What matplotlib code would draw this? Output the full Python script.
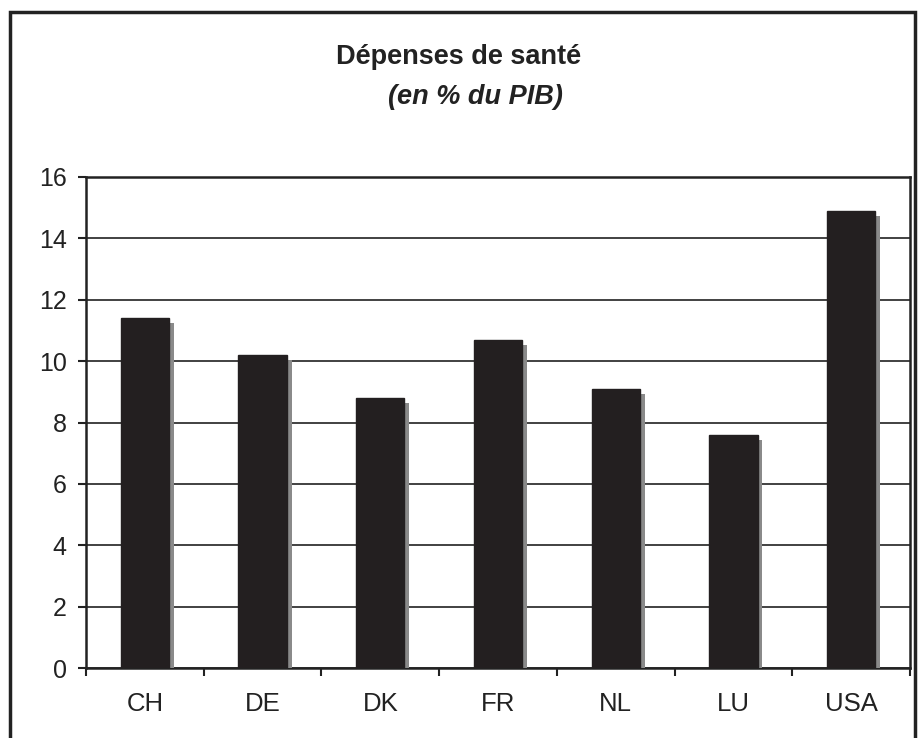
import matplotlib
matplotlib.use("Agg")
import matplotlib.pyplot as plt
import matplotlib.patheffects as pe
from matplotlib.patches import Rectangle

categories = ["CH", "DE", "DK", "FR", "NL", "LU", "USA"]
values = [11.4, 10.2, 8.8, 10.7, 9.1, 7.6, 14.9]
yticks = [0, 2, 4, 6, 8, 10, 12, 14, 16]

plt.rcParams['font.family'] = ['Liberation Sans', 'DejaVu Sans']

W, H = 918, 738
fig = plt.figure(figsize=(W / 100, H / 100), dpi=100)
ax = fig.add_axes([86 / W, 1 - 668 / H, (910 - 86) / W, (668 - 177) / H])

x = list(range(len(categories)))
bars = ax.bar(x, values, width=0.41, color="#231f20", edgecolor="#231f20", zorder=3)
for b in bars:
    b.set_path_effects([pe.SimplePatchShadow(offset=(3.5, -3.5), shadow_rgbFace="#8a8a8a", alpha=1.0),
                        pe.Normal()])

ax.set_xlim(-0.5, len(categories) - 0.5)
ax.set_ylim(0, 16)
ax.set_yticks(yticks)
ax.set_yticklabels([str(t) for t in yticks], fontsize=18, color="#222222")
ax.yaxis.grid(True, color="#333333", linewidth=1.3)
ax.set_axisbelow(True)

ax.set_xticks([i + 0.5 for i in range(-1, len(categories))], minor=False)
ax.set_xticklabels([""] * (len(categories) + 1))
ax.set_xticks(x, minor=True)
ax.set_xticklabels(categories, minor=True, fontsize=18.5, color="#222222")
ax.tick_params(axis="x", which="minor", length=0, pad=17)
ax.tick_params(axis="x", which="major", length=6, width=1.5, direction="out", color="#222222")
ax.tick_params(axis="y", length=6, width=1.5, direction="out", color="#222222", pad=8)

for side in ["left", "bottom", "top", "right"]:
    ax.spines[side].set_linewidth(1.8)
    ax.spines[side].set_color("#222222")

fig.text(459 / W, 1 - 57 / H, "Dépenses de santé", ha="center", va="center",
         fontsize=19.5, fontweight="bold", color="#222222")
fig.text(475 / W, 1 - 97 / H, "(en % du PIB)", ha="center", va="center",
         fontsize=19.5, fontweight="bold", fontstyle="italic", color="#222222")

frame = Rectangle((10 / W, -0.05), (915 - 10) / W, 1.05 - 12 / H, transform=fig.transFigure,
                  fill=False, edgecolor="#222222", linewidth=2.5)
fig.patches.append(frame)

fig.savefig("out.png", dpi=100)
